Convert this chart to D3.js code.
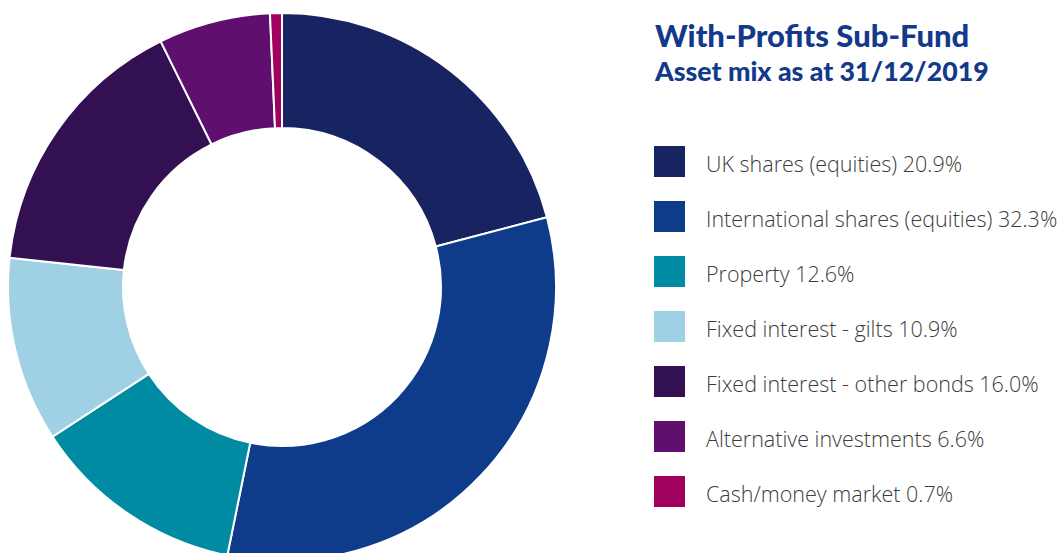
<!DOCTYPE html>
<html>
<head>
<meta charset="utf-8">
<script src="https://cdn.jsdelivr.net/npm/d3@7"></script>
<style>
  body { margin: 0; background: #fff; }
  .title { font-family: Lato, sans-serif; font-weight: 900; fill: #12398a; }
  .legend text { font-family: "Open Sans", sans-serif; font-weight: 300; fill: #3c3c3c; }
</style>
</head>
<body>
<div id="chart"></div>
<script>
// asset mix, clockwise from 12 o'clock
var categories = ["UK shares (equities)", "International shares (equities)", "Property",
  "Fixed interest - gilts", "Fixed interest - other bonds", "Alternative investments", "Cash/money market"];
var values = [20.9, 32.3, 12.6, 10.9, 16.0, 6.6, 0.7];
var colors = ["#182361", "#0f3c8a", "#008ba3", "#9fd0e3", "#321052", "#5f0f6d", "#a0005e"];
var titleLines = ["With-Profits Sub-Fund", "Asset mix as at 31/12/2019"];

var width = 1064, height = 553;
var cx = 282, cy = 287, outerR = 274, innerR = 159;

var svg = d3.select("#chart").append("svg")
    .attr("width", width)
    .attr("height", height);

var pie = d3.pie().sort(null).value(function(d) { return d; });
var arc = d3.arc().innerRadius(innerR).outerRadius(outerR);

svg.append("g")
    .attr("transform", "translate(" + cx + "," + cy + ")")
  .selectAll("path")
    .data(pie(values))
  .enter().append("path")
    .attr("d", arc)
    .attr("fill", function(d, i) { return colors[i]; })
    .attr("stroke", "#fff")
    .attr("stroke-width", 2);

// title - first line a bit larger than the second
var titleSize = [31, 26.7], titleY = [47, 81];
svg.selectAll(".title")
    .data(titleLines)
  .enter().append("text")
    .attr("class", "title")
    .attr("x", 655)
    .attr("y", function(d, i) { return titleY[i]; })
    .attr("font-size", function(d, i) { return titleSize[i]; })
    .text(function(d) { return d; });

// legend
var rowY = d3.scaleLinear().domain([0, 1]).range([146, 201]);

var legend = svg.append("g").attr("class", "legend")
  .selectAll("g")
    .data(categories)
  .enter().append("g")
    .attr("transform", function(d, i) { return "translate(654," + rowY(i) + ")"; });

legend.append("rect")
    .attr("width", 31)
    .attr("height", 31)
    .attr("fill", function(d, i) { return colors[i]; });

legend.append("text")
    .attr("x", 52)
    .attr("y", 26)
    .attr("font-size", 21.5)
    .text(function(d, i) { return d + " " + values[i].toFixed(1) + "%"; });
</script>
</body>
</html>
